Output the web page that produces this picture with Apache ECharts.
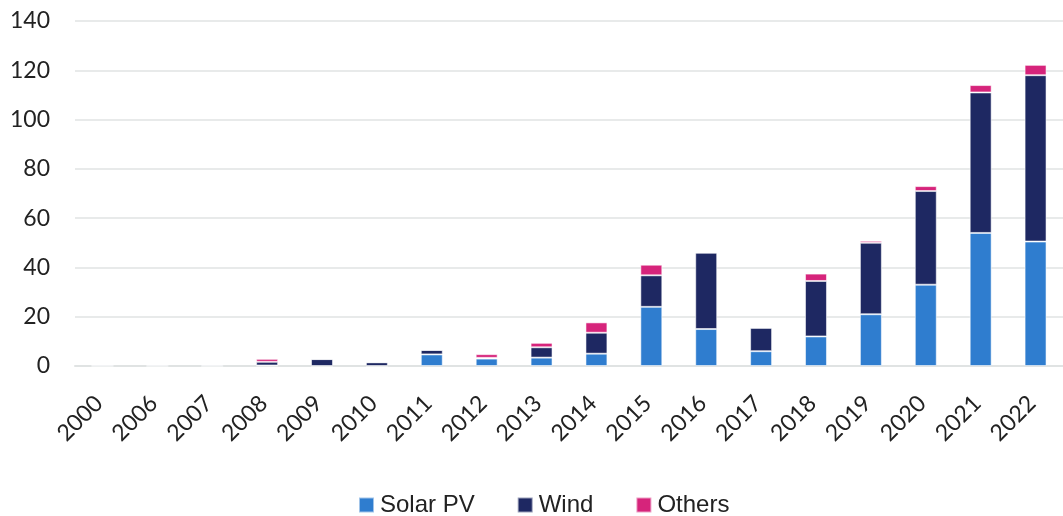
<!DOCTYPE html>
<html><head><meta charset="utf-8">
<script src="https://cdn.jsdelivr.net/npm/echarts@6/dist/echarts.min.js"></script>
<style>html,body{margin:0;padding:0;background:#fff}#c{width:1063px;height:516px}</style>
</head><body><div id="c"></div>
<script>
const years = ['2000','2006','2007','2008','2009','2010','2011','2012','2013','2014','2015','2016','2017','2018','2019','2020','2021','2022'];
const solarPV = [0, 0, 0, 0.2, 0, 0, 4.7, 3.0, 3.4, 5.0, 24, 15, 6, 12, 21, 33, 54, 50.5];
const wind    = [0.5, 0.5, 0.5, 1.5, 2.8, 1.5, 1.8, 0.3, 4.2, 8.5, 12.8, 31, 9.5, 22.5, 29, 38, 57, 67.5];
const others  = [0, 0, 0, 1.2, 0, 0, 0, 1.5, 1.8, 4.2, 4.3, 0, 0, 3, 0.8, 2, 3, 4.2];
const yTicks = [0, 20, 40, 60, 80, 100, 120, 140];

const font = 'Lato, "Open Sans", sans-serif';
const legendFont = '"Liberation Sans", Arial, sans-serif';
const border = {borderColor: 'rgba(255,255,255,0.55)', borderWidth: 1};
const mk = (name, data, color) => ({
  name, type: 'bar', stack: 'total', data, barWidth: '40%',
  itemStyle: Object.assign({color}, border)
});
const chart = echarts.init(document.getElementById('c'), null, {renderer: 'canvas'});
chart.setOption({
  animation: false,
  grid: {left: 75, top: 21, width: 995, height: 345, containLabel: false},
  legend: {
    top: 488, left: 353, itemWidth: 15, itemHeight: 15, itemGap: 42,
    icon: 'rect',
    textStyle: {fontFamily: legendFont, fontSize: 24, color: '#222', padding: [0, 0, 0, 1]},
    data: ['Solar PV', 'Wind', 'Others']
  },
  xAxis: {
    type: 'category', data: years,
    axisLine: {show: true, lineStyle: {color: '#e0e3e3', width: 2}},
    axisTick: {show: false},
    axisLabel: {rotate: 45, fontFamily: font, fontSize: 23, color: '#222', margin: 30, padding: [0, 5, 0, 0], interval: 0}
  },
  yAxis: {
    type: 'value', min: yTicks[0], max: yTicks[yTicks.length - 1], interval: 20,
    axisLine: {show: false}, axisTick: {show: false},
    splitLine: {lineStyle: {color: '#e0e3e3', width: 1.5}},
    axisLabel: {fontFamily: font, fontSize: 23, color: '#222', margin: 25}
  },
  series: [
    mk('Solar PV', solarPV, '#2f7dcf'),
    mk('Wind', wind, '#1e2862'),
    mk('Others', others, '#d6247b')
  ]
});
</script></body></html>
